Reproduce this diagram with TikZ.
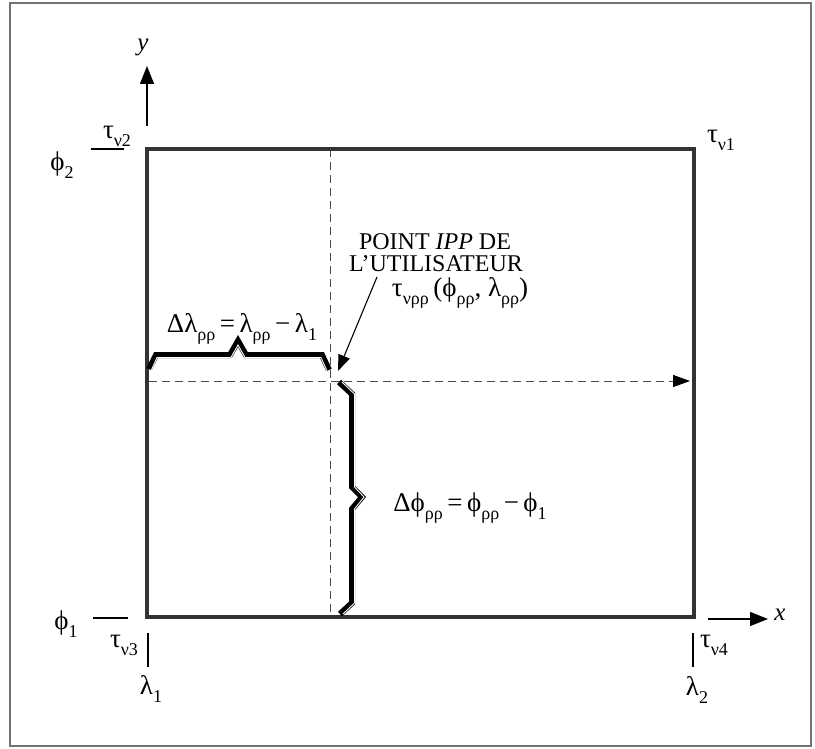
\documentclass[tikz,border=0pt]{standalone}
\usepackage{fontspec}
\setmainfont{Liberation Serif}
\usetikzlibrary{arrows.meta}
\newcommand\lowr[1]{\raisebox{-0.3em}{\fontsize{18}{18}\selectfont #1}}
\begin{document}
\begin{tikzpicture}[x=1pt,y=-1pt,
  lbl/.style={font=\fontsize{24}{26}\selectfont, inner sep=0pt},
  glbl/.style={font=\fontsize{27}{29}\selectfont, inner sep=0pt},
  capline/.style={text height=16pt, text depth=0pt},
  rectline/.style={draw=black!80, line width=4.5pt},
  thinline/.style={draw=black, line width=1.1pt},
  dashline/.style={draw=black!70, line width=1pt, dash pattern=on 8pt off 5pt},
  axisarrow/.style={draw=black, line width=1.2pt, -{Triangle[length=18pt,width=14pt]}},
  bracebody/.style={draw=black, line width=6pt, line join=miter},
  bracelight/.style={draw=white, line width=0.9pt, line join=miter},
  frameline/.style={draw=black!55, line width=1.5pt}]
\useasboundingbox (0,0) rectangle (815,749);
\draw[frameline] (10,3) rectangle (811,746);
% main rectangle
\coordinate (A) at (147,149);
\coordinate (B) at (694,617);
\draw[rectline] (A) rectangle (B);
% dashed lines
\coordinate (dv1) at (330,149);
\coordinate (dv2) at (330,617);
\coordinate (dh1) at (149,381);
\coordinate (dh2) at (690,381);
\draw[dashline] (dv1) -- (dv2);
\draw[dashline, -{Triangle[length=17pt,width=12pt,color=black]}] (dh1) -- (dh2);
% axes
\coordinate (ya) at (147,126);
\coordinate (yb) at (147,66);
\draw[axisarrow] (ya) -- (yb);
\node[lbl, font=\fontsize{25}{27}\selectfont\itshape] (ylab) at (143,47) {y};
\coordinate (xa) at (708,619);
\coordinate (xb) at (768,619);
\draw[axisarrow] (xa) -- (xb);
\node[lbl, font=\fontsize{25}{27}\selectfont\itshape] (xlab) at (780,615) {x};
% corner labels
\node[glbl] (tv2) at (117,136) {τ\lowr{ν2}};
\coordinate (t2a) at (91,149);
\coordinate (t2b) at (124,149);
\draw[thinline] (t2a) -- (t2b);
\node[glbl] (phi2) at (62,165) {ϕ\lowr{2}};
\node[glbl] (tv1) at (721,140) {τ\lowr{ν1}};
\node[glbl] (phi1) at (66,624) {ϕ\lowr{1}};
\coordinate (p1a) at (93,618);
\coordinate (p1b) at (128,618);
\draw[thinline] (p1a) -- (p1b);
\node[glbl] (tv3) at (124,645) {τ\lowr{ν3}};
\coordinate (l1a) at (148,633);
\coordinate (l1b) at (148,667);
\draw[thinline] (l1a) -- (l1b);
\node[glbl] (lam1) at (151,689) {λ\lowr{1}};
\node[glbl] (tv4) at (714,645) {τ\lowr{ν4}};
\coordinate (l2a) at (693,633);
\coordinate (l2b) at (693,667);
\draw[thinline] (l2a) -- (l2b);
\node[glbl] (lam2) at (697,690) {λ\lowr{2}};
% point label
\node[lbl, capline, anchor=base] (pt1) at (435,250) {POINT \textit{IPP} DE};
\node[lbl, capline, anchor=base] (pt2) at (436,272) {L’UTILISATEUR};
\node[glbl, anchor=base, text height=18pt, text depth=6pt] (pt3) at (460,296) {τ\lowr{νρρ}\,(ϕ\lowr{ρρ}, λ\lowr{ρρ})};
\coordinate (ar1) at (377,277);
\coordinate (ar2) at (338,371);
\draw[draw=black, line width=1.1pt, -{Triangle[length=16pt,width=12pt]}] (ar1) -- (ar2);
% delta lambda brace
\node[glbl, anchor=base] (dlam) at (242,332) {Δλ\lowr{ρρ}\,=\,λ\lowr{ρρ}\,−\,λ\lowr{1}};
\draw[bracebody] (149,369) -- (156,355) -- (230,355) -- (238,341) -- (246,355) -- (322,355) -- (329,370);
\draw[bracelight] (151,371) -- (157,357.5) -- (231,357.5) -- (238,345) -- (245,357.5) -- (321,357.5) -- (327,371);
% delta phi brace
\node[glbl, anchor=base] (dphi) at (470,511) {Δϕ\lowr{ρρ}\,=\,ϕ\lowr{ρρ}\,−\,ϕ\lowr{1}};
\draw[bracebody] (339,382) -- (352,394) -- (352,487) -- (362,497) -- (352,509) -- (352,603) -- (340,614);
\draw[bracelight] (342,382) -- (354.5,394) -- (354.5,487) -- (364,497) -- (354.5,509) -- (354.5,603) -- (343,614);
\end{tikzpicture}
\end{document}
